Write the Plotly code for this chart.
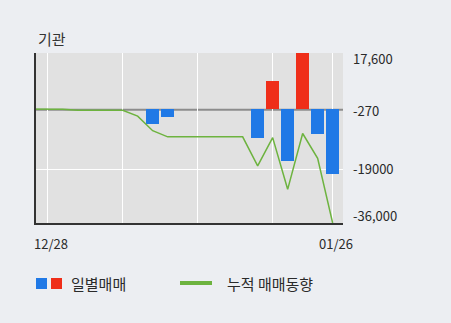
import plotly.graph_objects as go

# ---- data ----
dates = ["12/28", "01/02", "01/03", "01/04", "01/05", "01/08", "01/09", "01/10",
         "01/11", "01/12", "01/15", "01/16", "01/17", "01/18", "01/19", "01/22",
         "01/23", "01/24", "01/25", "01/26"]
daily = [0, 0, 0, 0, 0, 0, 0, -4750, -2650, 0, 0, 0, 0, 0,
         -9150, 8900, -16300, 17600, -7800, -20400]
cumulative = [-100, -100, -430, -430, -430, -450, -2300, -6900, -8830, -8830,
              -8830, -8830, -8830, -8830, -17980, -9080, -25380, -7780, -15580, -35980]
y_tick_vals = [17600, -270, -19000, -36000]
y_tick_text = ["17,600", "-270", "-19000", "-36,000"]
x_label_idx = [0, 19]
title_text = "기관"
legend_bar = "일별매매"
legend_line = "누적 매매동향"

W, H = 451, 323
L, R, T, B = 36, 343, 53, 223
PW, PH = R - L, B - T


def px(xp):
    return (xp - L) / PW


def py(yp):
    return (B - yp) / PH


xs = list(range(len(dates)))
BLUE = "#2079e6"
RED = "#ef2e19"
GREEN = "#6db33f"
FONT = "Noto Sans CJK KR"
TXT = "#2a2a2a"

fig = go.Figure()
fig.add_trace(go.Bar(
    x=xs, y=daily, width=0.87,
    marker=dict(color=[RED if v > 0 else BLUE for v in daily], line=dict(width=0)),
    hoverinfo="skip", showlegend=False,
))
fig.add_trace(go.Scatter(
    x=xs, y=cumulative, mode="lines",
    line=dict(color=GREEN, width=1.5),
    hoverinfo="skip", showlegend=False,
))

# zero / baseline gray line
fig.add_shape(type="line", xref="paper", yref="y", x0=0, x1=1,
              y0=y_tick_vals[1], y1=y_tick_vals[1],
              line=dict(color="#8c8c8c", width=2), layer="below")
# lead-in of the cumulative line from the left axis to the first point
fig.add_shape(type="line", xref="paper", yref="y", x0=0, x1=px(48),
              y0=cumulative[0], y1=cumulative[0],
              line=dict(color=GREEN, width=1.5))

annotations = []
# right tick labels
label_px_y = [58, 110, 168.5, 215]
for txt, yp in zip(y_tick_text, label_px_y):
    annotations.append(dict(xref="paper", yref="paper", x=px(351), y=py(yp),
                            text=txt, showarrow=False, xanchor="left", yanchor="middle",
                            font=dict(family=FONT, size=13, color=TXT)))
# x labels
for i in x_label_idx:
    annotations.append(dict(xref="x", yref="paper", x=i, y=py(243), xshift=3.5,
                            text=dates[i], showarrow=False, xanchor="center", yanchor="middle",
                            font=dict(family=FONT, size=13, color=TXT)))
# title
annotations.append(dict(xref="paper", yref="paper", x=px(36), y=py(38),
                        text=title_text, showarrow=False, xanchor="left", yanchor="middle",
                        font=dict(family=FONT, size=15, color="#333")))
# legend texts
annotations.append(dict(xref="paper", yref="paper", x=px(69), y=py(283),
                        text=legend_bar, showarrow=False, xanchor="left", yanchor="middle",
                        font=dict(family=FONT, size=15, color=TXT)))
annotations.append(dict(xref="paper", yref="paper", x=px(225), y=py(283),
                        text=legend_line, showarrow=False, xanchor="left", yanchor="middle",
                        font=dict(family=FONT, size=15, color=TXT)))

shapes = [
    dict(type="rect", xref="paper", yref="paper", x0=px(36), x1=px(47), y0=py(289), y1=py(278),
         fillcolor=BLUE, line=dict(width=0)),
    dict(type="rect", xref="paper", yref="paper", x0=px(51), x1=px(62), y0=py(289), y1=py(278),
         fillcolor=RED, line=dict(width=0)),
    dict(type="line", xref="paper", yref="paper", x0=px(180), x1=px(212), y0=py(283), y1=py(283),
         line=dict(color=GREEN, width=4)),
]
for s in shapes:
    fig.add_shape(**s)

fig.update_layout(
    width=W, height=H,
    margin=dict(l=L, r=W - R, t=T, b=H - B, pad=0),
    paper_bgcolor="#eceef2",
    plot_bgcolor="#e1e1e1",
    showlegend=False,
    bargap=0,
    annotations=annotations,
    xaxis=dict(range=[-0.78, 19.69], tickvals=[0, 5, 10, 15, 19], showticklabels=False,
               showgrid=True, gridcolor="#ffffff", gridwidth=1, zeroline=False,
               showline=True, linecolor="#333333", linewidth=2, ticks="", fixedrange=True),
    yaxis=dict(range=[-36000, 17600], tickvals=[17600, -19000], showticklabels=False,
               showgrid=True, gridcolor="#ffffff", gridwidth=1, zeroline=False,
               showline=True, linecolor="#333333", linewidth=2, ticks="", fixedrange=True),
)

fig.write_html("out.html")
